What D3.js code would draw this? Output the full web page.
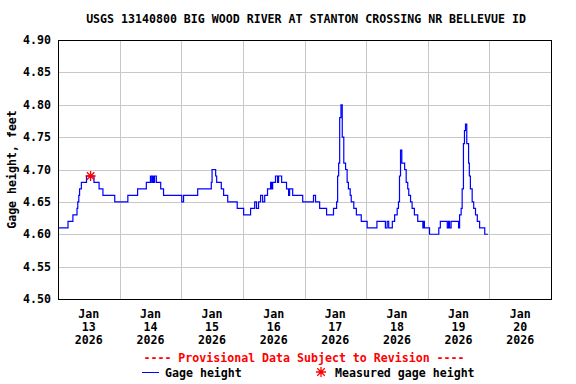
<!DOCTYPE html>
<html lang="en">
<head>
  <meta charset="UTF-8" />
  <title>USGS 13140800 Gage height</title>
  <script src="https://d3js.org/d3.v7.min.js"></script>
  <style>
    body { margin: 0; background: white; }
    svg { display: block; }
    text { font-family: "DejaVu Sans Mono", "Liberation Mono", monospace; font-weight: bold; font-size: 11.6px; }
  </style>
</head>
<body>

<svg width="576" height="384"></svg>

<script>
  // hours since Jan 13 2026 00:00 where the value changes, and the value from then on
  const hours = [0, 3.9, 5.8, 7.4, 7.7, 8.1, 8.4, 9.1, 11.1, 14.0, 16.0, 17.5, 22.1, 27.2, 31.0,
    34.4, 36.0, 36.5, 36.9, 37.3, 37.6, 38.3, 40.0, 41.1, 48.2, 48.9, 54.4, 59.7, 60.0, 61.4,
    61.8, 63.6, 64.5, 66.1, 69.8, 72.3, 75.0, 76.6, 77.3, 78.1, 78.9, 79.7, 80.5, 81.6, 82.8,
    83.2, 83.6, 84.7, 85.5, 85.9, 87.1, 89.0, 89.8, 90.2, 91.4, 95.3, 99.5, 100.3, 101.9, 104.6,
    107.3, 108.5, 108.9, 109.3, 109.7, 110.2, 110.7, 111.3, 112.0, 112.6, 113.1, 113.8, 114.2,
    114.6, 115.2, 116.2, 118.1, 120.4, 124.2, 127.5, 128.2, 128.8, 130.2, 131.1, 132.1, 132.6,
    133.0, 133.4, 133.9, 135.0, 135.6, 136.2, 136.6, 137.3, 137.9, 138.8, 140.1, 142.1, 142.5,
    142.7, 144.7, 148.3, 148.9, 151.6, 152.1, 152.5, 153.1, 156.0, 156.4, 157.0, 157.4, 157.9,
    158.3, 158.7, 159.2, 159.9, 160.2, 160.6, 161.3, 161.9, 162.6, 163.3, 164.2, 166.2, 167.4];
  const gage = [4.61, 4.62, 4.63, 4.64, 4.65, 4.66, 4.67, 4.68, 4.69, 4.68, 4.67, 4.66, 4.65, 4.66, 4.67,
    4.68, 4.69, 4.68, 4.69, 4.68, 4.69, 4.68, 4.67, 4.66, 4.65, 4.66, 4.67, 4.68, 4.70, 4.69,
    4.68, 4.67, 4.66, 4.65, 4.64, 4.63, 4.64, 4.65, 4.64, 4.65, 4.66, 4.65, 4.66, 4.67, 4.68,
    4.67, 4.68, 4.69, 4.68, 4.69, 4.68, 4.67, 4.66, 4.67, 4.66, 4.65, 4.66, 4.65, 4.64, 4.63,
    4.64, 4.65, 4.69, 4.71, 4.78, 4.80, 4.75, 4.71, 4.70, 4.68, 4.67, 4.66, 4.65,
    4.65, 4.64, 4.63, 4.62, 4.61, 4.62, 4.61, 4.62, 4.61, 4.62, 4.63, 4.64, 4.65,
    4.69, 4.73, 4.71, 4.70, 4.68, 4.67, 4.66, 4.65, 4.64, 4.63, 4.62, 4.61, 4.62,
    4.61, 4.60, 4.61, 4.62, 4.61, 4.62, 4.61, 4.62, 4.61, 4.63, 4.64, 4.67, 4.74,
    4.76, 4.77, 4.74, 4.71, 4.69, 4.67, 4.65, 4.64, 4.63, 4.62, 4.61, 4.60, 4.60];
  const measuredHour = [12.7];
  const measuredValue = [4.69];
  const yTicks = [4.50, 4.55, 4.60, 4.65, 4.70, 4.75, 4.80, 4.85, 4.90];
  const days = [13, 14, 15, 16, 17, 18, 19, 20];

  const start = new Date(2026, 0, 13);
  const end = new Date(2026, 0, 21);
  const hourToDate = h => new Date(start.getTime() + h * 3600000);

  const svg = d3.select("svg");
  const plotL = 58, plotR = 551, plotT = 40, plotB = 299;

  const x = d3.scaleTime().domain([start, end]).range([plotL, plotR]);
  const y = d3.scaleLinear().domain([4.50, 4.90]).range([plotB, plotT]);

  // title
  svg.append("text")
    .attr("x", 306).attr("y", 23)
    .attr("text-anchor", "middle")
    .text("USGS 13140800 BIG WOOD RIVER AT STANTON CROSSING NR BELLEVUE ID");

  // grid
  const grid = svg.append("g").attr("stroke", "#c8c8c8").attr("stroke-width", 1);
  grid.selectAll(".hg").data(yTicks.slice(1, -1)).enter().append("line")
    .attr("x1", plotL).attr("x2", plotR)
    .attr("y1", d => Math.round(y(d)) + 0.5).attr("y2", d => Math.round(y(d)) + 0.5);
  grid.selectAll(".vg").data(d3.timeDay.range(d3.timeDay.offset(start, 1), end)).enter().append("line")
    .attr("x1", d => Math.round(x(d)) + 0.5).attr("x2", d => Math.round(x(d)) + 0.5)
    .attr("y1", plotT).attr("y2", plotB);

  // y axis labels
  svg.append("g").selectAll("text").data(yTicks).enter().append("text")
    .attr("x", 51).attr("y", d => y(d) + 4)
    .attr("text-anchor", "end")
    .text(d => d3.format(".2f")(d));

  svg.append("text")
    .attr("transform", `translate(16, ${(plotT + plotB) / 2}) rotate(-90)`)
    .attr("text-anchor", "middle")
    .text("Gage height, feet");

  // x axis labels at noon
  const xl = svg.append("g").selectAll("g").data(days).enter().append("g")
    .attr("transform", d => `translate(${x(new Date(2026, 0, d, 12))},0)`);
  xl.append("text").attr("y", 318).attr("text-anchor", "middle").text("Jan");
  xl.append("text").attr("y", 331).attr("text-anchor", "middle").text(d => d);
  xl.append("text").attr("y", 344).attr("text-anchor", "middle").text("2026");

  // gage height series
  const series = hours.map((h, i) => ({ t: hourToDate(h), v: gage[i] }));
  const line = d3.line().x(d => x(d.t)).y(d => y(d.v)).curve(d3.curveStepAfter);
  svg.append("path").datum(series)
    .attr("fill", "none").attr("stroke", "#0000ff").attr("stroke-width", 1.2)
    .attr("d", line);

  // measured gage height
  const star = (g, cx, cy, r) => {
    const p = d3.path();
    p.moveTo(cx - r, cy); p.lineTo(cx + r, cy);
    p.moveTo(cx, cy - r); p.lineTo(cx, cy + r);
    const q = r * 0.75;
    p.moveTo(cx - q, cy - q); p.lineTo(cx + q, cy + q);
    p.moveTo(cx - q, cy + q); p.lineTo(cx + q, cy - q);
    g.append("path").attr("d", p.toString()).attr("stroke", "#ff0000").attr("stroke-width", 1.3).attr("fill", "none");
  };
  measuredHour.forEach((h, i) => star(svg, x(hourToDate(h)), y(measuredValue[i]), 5));

  // plot frame
  svg.append("rect")
    .attr("x", plotL + 0.5).attr("y", plotT + 0.5)
    .attr("width", plotR - plotL).attr("height", plotB - plotT)
    .attr("fill", "none").attr("stroke", "black").attr("stroke-width", 1);

  // footer
  svg.append("text")
    .attr("x", 304).attr("y", 362)
    .attr("text-anchor", "middle").attr("fill", "#ff0000")
    .text("---- Provisional Data Subject to Revision ----");

  svg.append("line").attr("x1", 142).attr("x2", 159).attr("y1", 372.5).attr("y2", 372.5)
    .attr("stroke", "#0000ff").attr("stroke-width", 1);
  svg.append("text").attr("x", 165).attr("y", 377).text("Gage height");
  star(svg, 321, 372, 5);
  svg.append("text").attr("x", 335).attr("y", 377).text("Measured gage height");
</script>

</body>
</html>
